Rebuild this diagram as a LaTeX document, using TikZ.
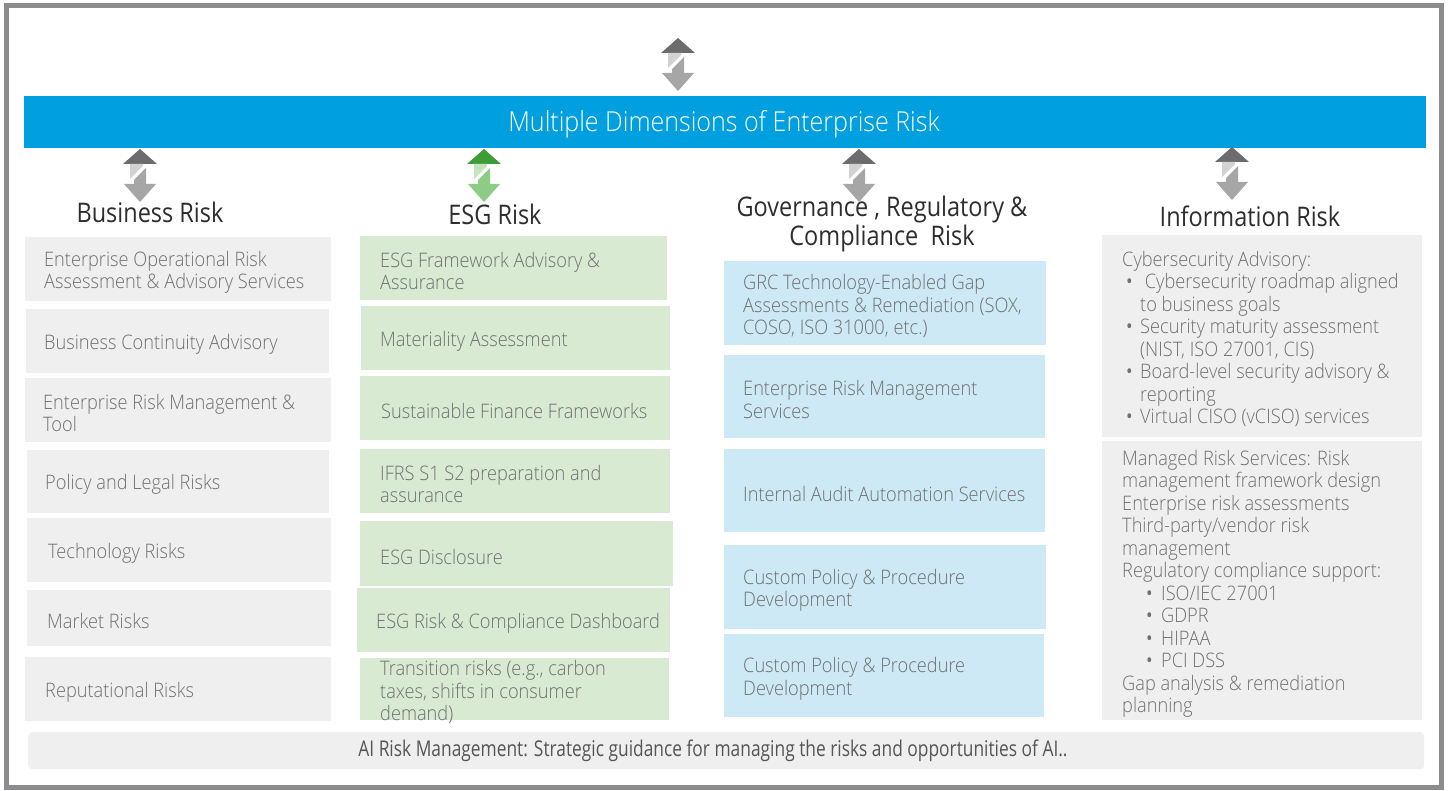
\documentclass[tikz,border=0pt]{standalone}
\usepackage{fontspec}
\setmainfont{Open Sans}[FakeStretch=0.87]
\newfontfamily\lightfont{Open Sans Light}[FakeStretch=0.91]
\newfontfamily\narrowfont{Open Sans}[FakeStretch=0.8]
\usepackage{tikz}
\usepackage{xcolor}
\usetikzlibrary{shapes, calc, positioning}
\definecolor{dimblue}{RGB}{0,159,224}
\definecolor{boxgray}{RGB}{239,239,239}
\definecolor{esggreen}{RGB}{217,234,211}
\definecolor{grcblue}{RGB}{205,233,246}
\definecolor{txtgray}{RGB}{112,112,112}
\definecolor{headgray}{RGB}{45,45,45}
\definecolor{aigray}{RGB}{85,85,85}
\definecolor{framegray}{RGB}{140,140,142}
\definecolor{arrowdark}{RGB}{108,108,110}
\definecolor{arrowlight}{RGB}{210,210,210}
\definecolor{arrowmid}{RGB}{166,166,166}
\definecolor{greendark}{RGB}{61,158,55}
\definecolor{greenlight}{RGB}{198,227,191}
\definecolor{greenmid}{RGB}{140,204,133}

\newcommand{\riskbullet}{\hspace*{4pt}\makebox[14pt][l]{\rmfamily\textbullet}}
\newcommand{\subbullet}{\hspace*{24pt}\makebox[15pt][l]{\rmfamily\textbullet}}

\tikzset{
    pics/dimarrow/.style n args={3}{code={
        \fill[#1] (-17,15) -- (0,0) -- (17,15) -- cycle;
        \fill[#2] (-10,15) -- (3,15) -- (3,17) -- (-10,30) -- cycle;
        \fill[#3] (6,19) -- (6,35) -- (-6,35) -- (-6,31) -- cycle;
        \fill[#3] (-16,35) -- (16,35) -- (0,53) -- cycle;
    }}
}

\begin{document}
\begin{tikzpicture}[x=1pt, y=-1pt,
    bizbox/.style={fill=boxgray, anchor=north west, inner sep=0pt},
    esgbox/.style={fill=esggreen, anchor=north west, inner sep=0pt},
    grcbox/.style={fill=grcblue, anchor=north west, inner sep=0pt},
    boxtext/.style={inner sep=0pt, yshift=-3pt, align=left, text=txtgray, font=\lightfont\fontsize{20}{22.5}\selectfont},
    head/.style={inner sep=0pt, align=center, text=headgray, font=\fontsize{27}{29}\selectfont}]

    \useasboundingbox (0,0) rectangle (1451,791);
    \draw[framegray, line width=5pt] (6.5,5.5) rectangle (1441.5,787.5);

    % title bar
    \pic at (678,38) {dimarrow={arrowdark}{arrowlight}{arrowmid}};
    \node[fill=dimblue, anchor=north west, inner sep=0pt, minimum width=1402pt, minimum height=52pt] (Dim) at (24,96) {};
    \node[inner sep=0pt, text=white, font=\lightfont\fontsize{27.5}{30}\selectfont] (DimT) at (724,124) {Multiple Dimensions of Enterprise Risk};

    \pic at (140,149) {dimarrow={arrowdark}{arrowlight}{arrowmid}};
    \pic at (484,149) {dimarrow={greendark}{greenlight}{greenmid}};
    \pic at (859,149) {dimarrow={arrowdark}{arrowlight}{arrowmid}};
    \pic at (1232,147) {dimarrow={arrowdark}{arrowlight}{arrowmid}};

    \node[head] (HB) at (150,212) {Business Risk};
    \node[head] (HE) at (495,214) {ESG Risk};
    \node[head] (HG) at (882,224) {Governance , Regulatory \&\\Compliance\ \ Risk};
    \node[head] (HI) at (1250,216) {Information Risk};

    % business risk
    \node[bizbox, minimum width=306pt, minimum height=64pt] (B1) at (25,237) {};
    \node[bizbox, minimum width=303pt, minimum height=64pt] (B2) at (26,309) {};
    \node[bizbox, minimum width=306pt, minimum height=64pt] (B3) at (25,378) {};
    \node[bizbox, minimum width=302pt, minimum height=63pt] (B4) at (27,450) {};
    \node[bizbox, minimum width=304pt, minimum height=64pt] (B5) at (27,518) {};
    \node[bizbox, minimum width=304pt, minimum height=56pt] (B6) at (27,590) {};
    \node[bizbox, minimum width=306pt, minimum height=64pt] (B7) at (25,657) {};
    \node[boxtext, right=19pt of B1.west] (B1t) {Enterprise Operational Risk\\Assessment \& Advisory Services};
    \node[boxtext, right=18pt of B2.west] (B2t) {Business Continuity Advisory};
    \node[boxtext, right=18pt of B3.west] (B3t) {Enterprise Risk Management \&\\Tool};
    \node[boxtext, right=18pt of B4.west] (B4t) {Policy and Legal Risks};
    \node[boxtext, right=21pt of B5.west] (B5t) {Technology Risks};
    \node[boxtext, right=20pt of B6.west] (B6t) {Market Risks};
    \node[boxtext, right=20pt of B7.west] (B7t) {Reputational Risks};

    % esg risk
    \node[esgbox, minimum width=307pt, minimum height=64pt] (E1) at (360,236) {};
    \node[esgbox, minimum width=309pt, minimum height=64pt] (E2) at (361,306) {};
    \node[esgbox, minimum width=310pt, minimum height=64pt] (E3) at (360,376) {};
    \node[esgbox, minimum width=310pt, minimum height=64pt] (E4) at (360,449) {};
    \node[esgbox, minimum width=313pt, minimum height=65pt] (E5) at (360,521) {};
    \node[esgbox, minimum width=313pt, minimum height=64pt] (E6) at (357,588) {};
    \node[esgbox, minimum width=309pt, minimum height=62pt] (E7) at (360,658) {};
    \node[boxtext, right=20pt of E1.west] (E1t) {ESG Framework Advisory \&\\Assurance};
    \node[boxtext, right=19pt of E2.west] (E2t) {Materiality Assessment};
    \node[boxtext, right=21pt of E3.west] (E3t) {Sustainable Finance Frameworks};
    \node[boxtext, right=20pt of E4.west] (E4t) {IFRS S1 S2 preparation and\\assurance};
    \node[boxtext, right=20pt of E5.west] (E5t) {ESG Disclosure};
    \node[boxtext, right=19pt of E6.west] (E6t) {ESG Risk \& Compliance Dashboard};
    \node[boxtext, right=20pt of E7.west] (E7t) {Transition risks (e.g., carbon\\taxes, shifts in consumer\\demand)};

    % governance, regulatory & compliance risk
    \node[grcbox, minimum width=322pt, minimum height=84pt] (G1) at (724,261) {};
    \node[grcbox, minimum width=321pt, minimum height=83pt] (G2) at (724,355) {};
    \node[grcbox, minimum width=321pt, minimum height=83pt] (G3) at (724,449) {};
    \node[grcbox, minimum width=322pt, minimum height=84pt] (G4) at (724,545) {};
    \node[grcbox, minimum width=320pt, minimum height=83pt] (G5) at (724,634) {};
    \node[boxtext, right=19pt of G1.west] (G1t) {GRC Technology-Enabled Gap\\Assessments \& Remediation (SOX,\\COSO, ISO 31000, etc.)};
    \node[boxtext, right=19pt of G2.west] (G2t) {Enterprise Risk Management\\Services};
    \node[boxtext, right=19pt of G3.west] (G3t) {Internal Audit Automation Services};
    \node[boxtext, right=19pt of G4.west] (G4t) {Custom Policy \& Procedure\\Development};
    \node[boxtext, right=19pt of G5.west] (G5t) {Custom Policy \& Procedure\\Development};

    % information risk
    \node[bizbox, minimum width=320pt, minimum height=202pt] (I1) at (1102,235) {};
    \node[bizbox, minimum width=320pt, minimum height=279pt] (I2) at (1102,441) {};
    \node[boxtext, right=20pt of I1.west] (I1t) {Cybersecurity Advisory:\\
        \riskbullet\ Cybersecurity roadmap aligned\\\hspace*{18pt}to business goals\\
        \riskbullet Security maturity assessment\\\hspace*{18pt}(NIST, ISO 27001, CIS)\\
        \riskbullet Board-level security advisory \&\\\hspace*{18pt}reporting\\
        \riskbullet Virtual CISO (vCISO) services};
    \node[boxtext, right=20pt of I2.west] (I2t) {Managed Risk Services: Risk\\management framework design\\Enterprise risk assessments\\
        Third-party/vendor risk\\management\\Regulatory compliance support:\\
        \subbullet ISO/IEC 27001\\\subbullet GDPR\\\subbullet HIPAA\\\subbullet PCI DSS\\
        Gap analysis \& remediation\\planning};

    % ai risk
    \node[fill=boxgray, rounded corners=4pt, anchor=north west, inner sep=0pt, minimum width=1396pt, minimum height=37pt] (AI) at (28,732) {};
    \node[inner sep=0pt, text=aigray, font=\narrowfont\fontsize{21.7}{24}\selectfont] (AIt) at (713,751) {AI Risk Management: Strategic guidance for managing the risks and opportunities of AI..};

\end{tikzpicture}
\end{document}
